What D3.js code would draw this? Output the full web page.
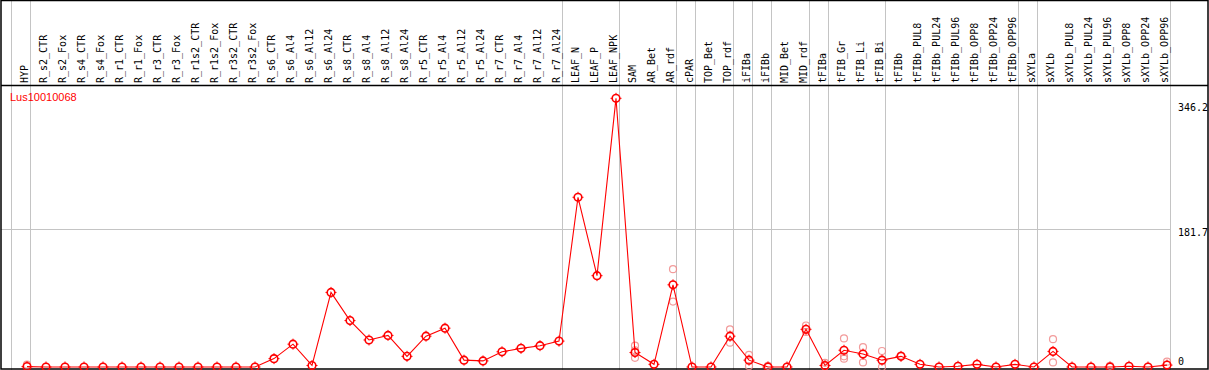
<!DOCTYPE html>
<html>
<head>
<meta charset="utf-8">
<script src="https://cdn.jsdelivr.net/npm/d3@7"></script>
<style>
  body { margin: 0; background: #fff; }
  svg { display: block; }
</style>
</head>
<body>
<div id="chart"></div>
<script>
// sample names along the top
var samples = ["HYP","R_s2_CTR","R_s2_Fox","R_s4_CTR","R_s4_Fox","R_r1_CTR","R_r1_Fox","R_r3_CTR","R_r3_Fox",
  "R_r1s2_CTR","R_r1s2_Fox","R_r3s2_CTR","R_r3s2_Fox","R_s6_CTR","R_s6_Al4","R_s6_Al12","R_s6_Al24",
  "R_s8_CTR","R_s8_Al4","R_s8_Al12","R_s8_Al24","R_r5_CTR","R_r5_Al4","R_r5_Al12","R_r5_Al24",
  "R_r7_CTR","R_r7_Al4","R_r7_Al12","R_r7_Al24","LEAF_N","LEAF_P","LEAF_NPK","SAM","AR_Bet","AR_rdf",
  "cPAR","TOP_Bet","TOP_rdf","iFIBa","iFIBb","MID_Bet","MID_rdf","tFIBa","tFIB_Gr","tFIB_Li","tFIB_Bi",
  "tFIBb","tFIBb_PUL8","tFIBb_PUL24","tFIBb_PUL96","tFIBb_OPP8","tFIBb_OPP24","tFIBb_OPP96",
  "sXYLa","sXYLb","sXYLb_PUL8","sXYLb_PUL24","sXYLb_PUL96","sXYLb_OPP8","sXYLb_OPP24","sXYLb_OPP96"];

// mean expression per sample
var means = [0.5,0,0,0,0,0,0,0,0,0,0,0,0,11,30,2,98,61,35.5,41.5,14,40.5,51,9,8,20,24.5,28,34,
  223,120,353,19,3.5,108,0,0,40.5,9,0,0,49.5,2,22,17,9,14,3.5,0,1,3.5,0,3.5,0,20.5,0,0,0,1,0,2.5];

// replicate values (sample, value)
var repSample = ["HYP","SAM","SAM","SAM","AR_rdf","AR_rdf","TOP_rdf","TOP_rdf","iFIBa","iFIBa",
  "iFIBb","MID_rdf","MID_rdf","tFIBa","tFIBa","tFIB_Gr","tFIB_Gr","tFIB_Gr","tFIB_Li","tFIB_Li",
  "tFIB_Bi","tFIB_Bi","tFIBb","sXYLb","sXYLb","sXYLb_PUL96","sXYLb_OPP96"];
var repValue = [3,28,22,12,128.5,86,49.5,32,16,1.3,1.5,54.5,46,5.5,1,37.5,14,11,26,6,21,0,15,36.5,6,1.5,7];

// group separators: line drawn after this sample index
var separators = [-1,0,28,31,34,35,37,38,39,41,42,45,52,53,60];

var yTicks = [346.2, 181.7, 0];
var gene = "Lus10010068";

var W = 1209, H = 370;
var svg = d3.select("#chart").append("svg").attr("width", W).attr("height", H);

var x = d3.scaleLinear().domain([0, samples.length - 1]).range([27, 1167]);
var y = d3.scaleLinear().domain([0, 346.2]).range([367, 103.5]);

// vertical group lines
svg.append("g").selectAll("line").data(separators).enter().append("line")
  .attr("x1", d => Math.round(x(d)) + 3.5).attr("x2", d => Math.round(x(d)) + 3.5)
  .attr("y1", 0).attr("y2", H)
  .attr("stroke", "#c4c4c4").attr("stroke-width", 1);

// horizontal grid at mid tick
svg.append("line")
  .attr("x1", 1).attr("x2", 1171)
  .attr("y1", Math.round(y(181.7)) + 0.5).attr("y2", Math.round(y(181.7)) + 0.5)
  .attr("stroke", "#c4c4c4");

// frame
svg.append("rect").attr("x", 1).attr("y", 0.5).attr("width", 1207).attr("height", 368.5)
  .attr("fill", "none").attr("stroke", "#000").attr("stroke-width", 1.5);
svg.append("line").attr("x1", 1).attr("x2", 1208).attr("y1", 85.5).attr("y2", 85.5)
  .attr("stroke", "#000").attr("stroke-width", 1.3);

// sample labels
svg.append("g").selectAll("text").data(samples).enter().append("text")
  .attr("transform", (d, i) => "translate(" + (Math.round(x(i)) + 1) + ",83) rotate(-90)")
  .attr("font-family", "DejaVu Sans Mono, monospace")
  .attr("font-size", 10)
  .attr("fill", "#000")
  .text(d => d);

// value labels on the right
svg.append("g").selectAll("text").data(yTicks).enter().append("text")
  .attr("x", 1178)
  .attr("y", d => Math.min(y(d) + 7, 365))
  .attr("font-family", "DejaVu Sans Mono, monospace")
  .attr("font-size", 10)
  .attr("fill", "#000")
  .text(d => d);

svg.append("text").attr("x", 10).attr("y", 101)
  .attr("font-family", "Liberation Sans, Arial, sans-serif")
  .attr("font-size", 11).attr("fill", "#f00")
  .text(gene);

// replicates
var reps = repSample.map((s, i) => ({ i: samples.indexOf(s), v: repValue[i] }));
svg.append("g").selectAll("circle").data(reps).enter().append("circle")
  .attr("cx", d => x(d.i)).attr("cy", d => y(d.v)).attr("r", 3.5)
  .attr("fill", "none").attr("stroke", "#f08a8a").attr("stroke-opacity", 0.85).attr("stroke-width", 1.2);

// mean line
var line = d3.line().x((d, i) => x(i)).y(d => y(d));
svg.append("path").datum(means).attr("d", line)
  .attr("fill", "none").attr("stroke", "#f00").attr("stroke-width", 1.1);

// mean markers with little ticks
var pts = svg.append("g").selectAll("g").data(means).enter().append("g")
  .attr("transform", (d, i) => "translate(" + x(i) + "," + y(d) + ")");
pts.append("circle").attr("r", 3.8).attr("fill", "none").attr("stroke", "#f00").attr("stroke-width", 1.6);
pts.append("path").attr("d", "M0,-5.5V-3.5M0,3.5V5.5M-5.5,0H-3.5M3.5,0H5.5")
  .attr("stroke", "#f00").attr("stroke-width", 1);
</script>
</body>
</html>
